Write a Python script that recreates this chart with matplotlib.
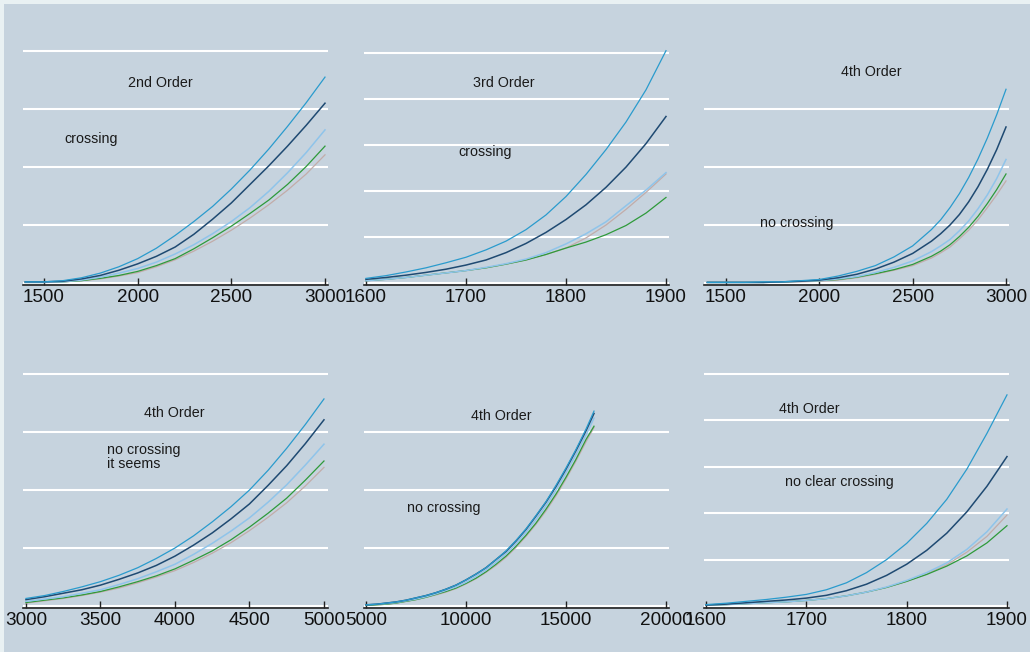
import matplotlib
matplotlib.use('Agg')
import matplotlib.pyplot as plt
from matplotlib.patches import Rectangle

# ---- data (y in gridline units, no y labels shown) ----
p1_x = [1400, 1500, 1600, 1700, 1800, 1900, 2000, 2100, 2200, 2300, 2400, 2500,
        2600, 2700, 2800, 2900, 3000]
p1_teal = [0.02, 0.02, 0.04, 0.09, 0.17, 0.28, 0.42, 0.6, 0.82, 1.06, 1.32, 1.62,
           1.95, 2.31, 2.7, 3.11, 3.55]
p1_navy = [0.02, 0.02, 0.03, 0.07, 0.13, 0.22, 0.33, 0.46, 0.62, 0.84, 1.1, 1.38,
           1.7, 2.02, 2.36, 2.72, 3.1]
p1_light = [0.01, 0.01, 0.02, 0.05, 0.1, 0.17, 0.25, 0.36, 0.5, 0.66, 0.85, 1.06,
            1.3, 1.58, 1.9, 2.25, 2.64]
p1_green = [0.01, 0.01, 0.02, 0.04, 0.08, 0.13, 0.2, 0.3, 0.42, 0.59, 0.78, 0.98,
            1.2, 1.43, 1.7, 2.01, 2.36]
p1_gray = [0.01, 0.01, 0.02, 0.04, 0.07, 0.12, 0.18, 0.28, 0.4, 0.55, 0.72, 0.91,
           1.12, 1.35, 1.6, 1.88, 2.21]

p2_x = [1600, 1620, 1640, 1660, 1680, 1700, 1720, 1740, 1760, 1780, 1800, 1820,
        1840, 1860, 1880, 1900]
p2_teal = [0.1, 0.16, 0.24, 0.33, 0.44, 0.56, 0.72, 0.91, 1.16, 1.48, 1.88, 2.36,
           2.9, 3.5, 4.2, 5.05]
p2_navy = [0.08, 0.12, 0.17, 0.23, 0.3, 0.39, 0.5, 0.66, 0.86, 1.1, 1.38, 1.7,
           2.08, 2.52, 3.03, 3.62]
p2_light = [0.05, 0.08, 0.12, 0.17, 0.22, 0.27, 0.34, 0.42, 0.52, 0.66, 0.85, 1.07,
            1.33, 1.68, 2.02, 2.4]
p2_green = [0.05, 0.08, 0.12, 0.17, 0.22, 0.27, 0.33, 0.41, 0.5, 0.62, 0.76, 0.89,
            1.05, 1.25, 1.52, 1.86]
p2_gray = [0.05, 0.08, 0.12, 0.17, 0.22, 0.27, 0.33, 0.41, 0.5, 0.62, 0.76, 0.98,
           1.26, 1.6, 1.97, 2.37]

p3_x = [1400, 1500, 1600, 1700, 1800, 1900, 2000, 2100, 2200, 2300, 2400, 2500,
        2600, 2650, 2700, 2750, 2800, 2850, 2900, 2950, 3000]
p3_teal = [0.01, 0.01, 0.01, 0.02, 0.02, 0.04, 0.06, 0.12, 0.2, 0.3, 0.45, 0.64,
           0.92, 1.09, 1.3, 1.54, 1.82, 2.14, 2.5, 2.9, 3.34]
p3_navy = [0.01, 0.01, 0.01, 0.01, 0.02, 0.03, 0.05, 0.09, 0.15, 0.24, 0.36, 0.51,
           0.72, 0.85, 1.0, 1.18, 1.4, 1.66, 1.96, 2.3, 2.69]
p3_light = [0.01, 0.01, 0.01, 0.01, 0.02, 0.03, 0.04, 0.07, 0.11, 0.18, 0.27, 0.38,
            0.54, 0.64, 0.75, 0.9, 1.07, 1.28, 1.52, 1.8, 2.13]
p3_green = [0.01, 0.01, 0.01, 0.01, 0.02, 0.03, 0.04, 0.06, 0.1, 0.16, 0.23, 0.32,
            0.46, 0.55, 0.66, 0.8, 0.96, 1.15, 1.37, 1.61, 1.88]
p3_gray = [0.01, 0.01, 0.01, 0.01, 0.02, 0.02, 0.03, 0.05, 0.09, 0.15, 0.22, 0.3,
           0.43, 0.52, 0.62, 0.76, 0.91, 1.09, 1.3, 1.52, 1.76]

p4_x = [3000, 3125, 3250, 3375, 3500, 3625, 3750, 3875, 4000, 4125, 4250, 4375,
        4500, 4625, 4750, 4875, 5000]
p4_teal = [0.13, 0.18, 0.25, 0.33, 0.42, 0.53, 0.66, 0.82, 1.0, 1.21, 1.45, 1.71,
           2.0, 2.34, 2.72, 3.13, 3.57]
p4_navy = [0.11, 0.16, 0.22, 0.28, 0.36, 0.46, 0.57, 0.7, 0.86, 1.05, 1.26, 1.5,
           1.76, 2.08, 2.42, 2.8, 3.21]
p4_light = [0.08, 0.12, 0.16, 0.22, 0.28, 0.37, 0.47, 0.59, 0.72, 0.89, 1.08, 1.29,
            1.52, 1.79, 2.09, 2.43, 2.79]
p4_green = [0.06, 0.1, 0.14, 0.19, 0.25, 0.33, 0.42, 0.52, 0.64, 0.79, 0.95, 1.14,
            1.36, 1.6, 1.86, 2.17, 2.5]
p4_gray = [0.05, 0.09, 0.13, 0.18, 0.24, 0.31, 0.4, 0.5, 0.61, 0.75, 0.91, 1.09,
           1.3, 1.53, 1.78, 2.07, 2.39]

p5_x = [5000, 5500, 6000, 6500, 7000, 7500, 8000, 8500, 9000, 9500, 10000, 10500,
        11000, 11500, 12000, 12500, 13000, 13500, 14000, 14500, 15000, 15500,
        16000, 16400]
p5_teal = [0.02, 0.03, 0.05, 0.07, 0.1, 0.14, 0.18, 0.23, 0.29, 0.36, 0.45, 0.55,
           0.66, 0.8, 0.95, 1.13, 1.33, 1.56, 1.8, 2.08, 2.38, 2.7, 3.05, 3.36]
p5_navy = [0.02, 0.03, 0.05, 0.07, 0.1, 0.14, 0.18, 0.23, 0.29, 0.36, 0.45, 0.55,
           0.66, 0.8, 0.94, 1.12, 1.32, 1.55, 1.79, 2.06, 2.36, 2.68, 3.02, 3.32]
p5_light = [0.02, 0.03, 0.04, 0.06, 0.09, 0.12, 0.16, 0.21, 0.27, 0.33, 0.41, 0.51,
            0.62, 0.75, 0.9, 1.07, 1.27, 1.49, 1.73, 2.0, 2.3, 2.61, 2.95, 3.24]
p5_green = [0.01, 0.02, 0.03, 0.05, 0.08, 0.11, 0.15, 0.2, 0.25, 0.31, 0.39, 0.48,
            0.59, 0.72, 0.86, 1.03, 1.22, 1.43, 1.67, 1.93, 2.22, 2.53, 2.87, 3.1]
p5_gray = [0.01, 0.02, 0.03, 0.05, 0.08, 0.11, 0.15, 0.19, 0.24, 0.3, 0.38, 0.47,
           0.58, 0.7, 0.84, 1.01, 1.2, 1.41, 1.64, 1.9, 2.19, 2.5, 2.83, 3.08]

p6_x = [1600, 1620, 1640, 1660, 1680, 1700, 1720, 1740, 1760, 1780, 1800, 1820,
        1840, 1860, 1880, 1900]
p6_teal = [0.03, 0.06, 0.1, 0.14, 0.19, 0.25, 0.35, 0.5, 0.72, 1.0, 1.35, 1.78,
           2.3, 2.95, 3.72, 4.55]
p6_navy = [0.02, 0.04, 0.07, 0.1, 0.13, 0.17, 0.23, 0.33, 0.47, 0.66, 0.9, 1.2,
           1.57, 2.03, 2.58, 3.22]
p6_light = [0.02, 0.03, 0.05, 0.07, 0.09, 0.12, 0.16, 0.22, 0.3, 0.41, 0.55, 0.72,
            0.93, 1.22, 1.6, 2.09]
p6_green = [0.02, 0.03, 0.05, 0.07, 0.09, 0.12, 0.16, 0.22, 0.3, 0.4, 0.53, 0.68,
            0.86, 1.08, 1.36, 1.73]
p6_gray = [0.02, 0.03, 0.05, 0.07, 0.09, 0.12, 0.16, 0.22, 0.3, 0.4, 0.53, 0.69,
           0.89, 1.16, 1.5, 1.96]

p1_ticks = [1500, 2000, 2500, 3000]
p2_ticks = [1600, 1700, 1800, 1900]
p3_ticks = [1500, 2000, 2500, 3000]
p4_ticks = [3000, 3500, 4000, 4500, 5000]
p5_ticks = [5000, 10000, 15000, 20000]
p6_ticks = [1600, 1700, 1800, 1900]

p1_grid = [0, 1, 2, 3, 4]
p2_grid = [0, 1, 2, 3, 4, 5]
p3_grid = [0, 1, 2, 3]
p4_grid = [0, 1, 2, 3, 4]
p5_grid = [0, 1, 2, 3]
p6_grid = [0, 1, 2, 3, 4, 5]

# ---- style ----
plt.rcParams['font.family'] = ['Liberation Sans', 'DejaVu Sans']
outer_bg = '#e9f1f3'
inner_bg = '#c6d3de'
colors = ['#c2aca9', '#2e9a3a', '#8fc4ea', '#1f4a72', '#2a9bcd']  # gray, green, light, navy, teal
widths = [0.9, 0.9, 1.1, 1.1, 0.9]

W, H = 1030, 652
fig = plt.figure(figsize=(W / 100, H / 100), dpi=100)
fig.patch.set_facecolor(outer_bg)
fig.add_artist(Rectangle((4 / W, 0), 1, 1 - 4 / H, transform=fig.transFigure,
                         facecolor=inner_bg, edgecolor='none', zorder=0))


def make_panel(left_px, bottom_px, xlim, unit_px, x, ys, ticks, grid, notes):
    h_px = 245
    ax = fig.add_axes([left_px / W, 1 - bottom_px / H, 305 / W, h_px / H])
    ax.set_facecolor('none')
    ymin = -2 / unit_px
    ax.set_ylim(ymin, ymin + h_px / unit_px)
    ax.set_xlim(*xlim)
    for g in grid:
        ax.axhline(g, color='white', lw=1.5, zorder=1)
    for y, c, lw in zip(ys, colors, widths):
        ax.plot(x, y, color=c, lw=lw, zorder=3)
    ax.set_xticks(ticks)
    ax.set_xticklabels([str(t) for t in ticks])
    ax.tick_params(axis='x', direction='in', length=5, width=1, color='#222222',
                   labelsize=13.6, labelcolor='#111111', pad=3)
    ax.set_yticks([])
    for s in ['left', 'right', 'top']:
        ax.spines[s].set_visible(False)
    ax.spines['bottom'].set_color('#222222')
    ax.spines['bottom'].set_linewidth(1.2)
    for tx, ty, txt, ha in notes:
        ax.text(tx, ty, txt, ha=ha, va='center', fontsize=10.3, color='#1a1a1a',
                linespacing=1.05, zorder=4)
    return ax


make_panel(23, 285, (1388, 3016), 58, p1_x,
           [p1_gray, p1_green, p1_light, p1_navy, p1_teal], p1_ticks, p1_grid,
           [(2119, 3.45, '2nd Order', 'center'), (1751, 2.48, 'crossing', 'center')])
make_panel(364, 285, (1598, 1903), 46, p2_x,
           [p2_gray, p2_green, p2_light, p2_navy, p2_teal], p2_ticks, p2_grid,
           [(1738, 4.35, '3rd Order', 'center'), (1719, 2.85, 'crossing', 'center')])
make_panel(704, 285, (1382, 3016), 58, p3_x,
           [p3_gray, p3_green, p3_light, p3_navy, p3_teal], p3_ticks, p3_grid,
           [(2277, 3.64, '4th Order', 'center'), (1878, 1.03, 'no crossing', 'center')])
make_panel(23, 608, (2980, 5027), 58, p4_x,
           [p4_gray, p4_green, p4_light, p4_navy, p4_teal], p4_ticks, p4_grid,
           [(3998, 3.33, '4th Order', 'center'), (3544, 2.57, 'no crossing\nit seems', 'left')])
make_panel(364, 608, (4900, 20150), 58, p5_x,
           [p5_gray, p5_green, p5_light, p5_navy, p5_teal], p5_ticks, p5_grid,
           [(11770, 3.28, '4th Order', 'center'), (8912, 1.69, 'no crossing', 'center')])
make_panel(704, 608, (1598, 1902), 46.4, p6_x,
           [p6_gray, p6_green, p6_light, p6_navy, p6_teal], p6_ticks, p6_grid,
           [(1703, 4.25, '4th Order', 'center'), (1733, 2.67, 'no clear crossing', 'center')])

fig.savefig('out.png', dpi=100, facecolor=fig.get_facecolor())
